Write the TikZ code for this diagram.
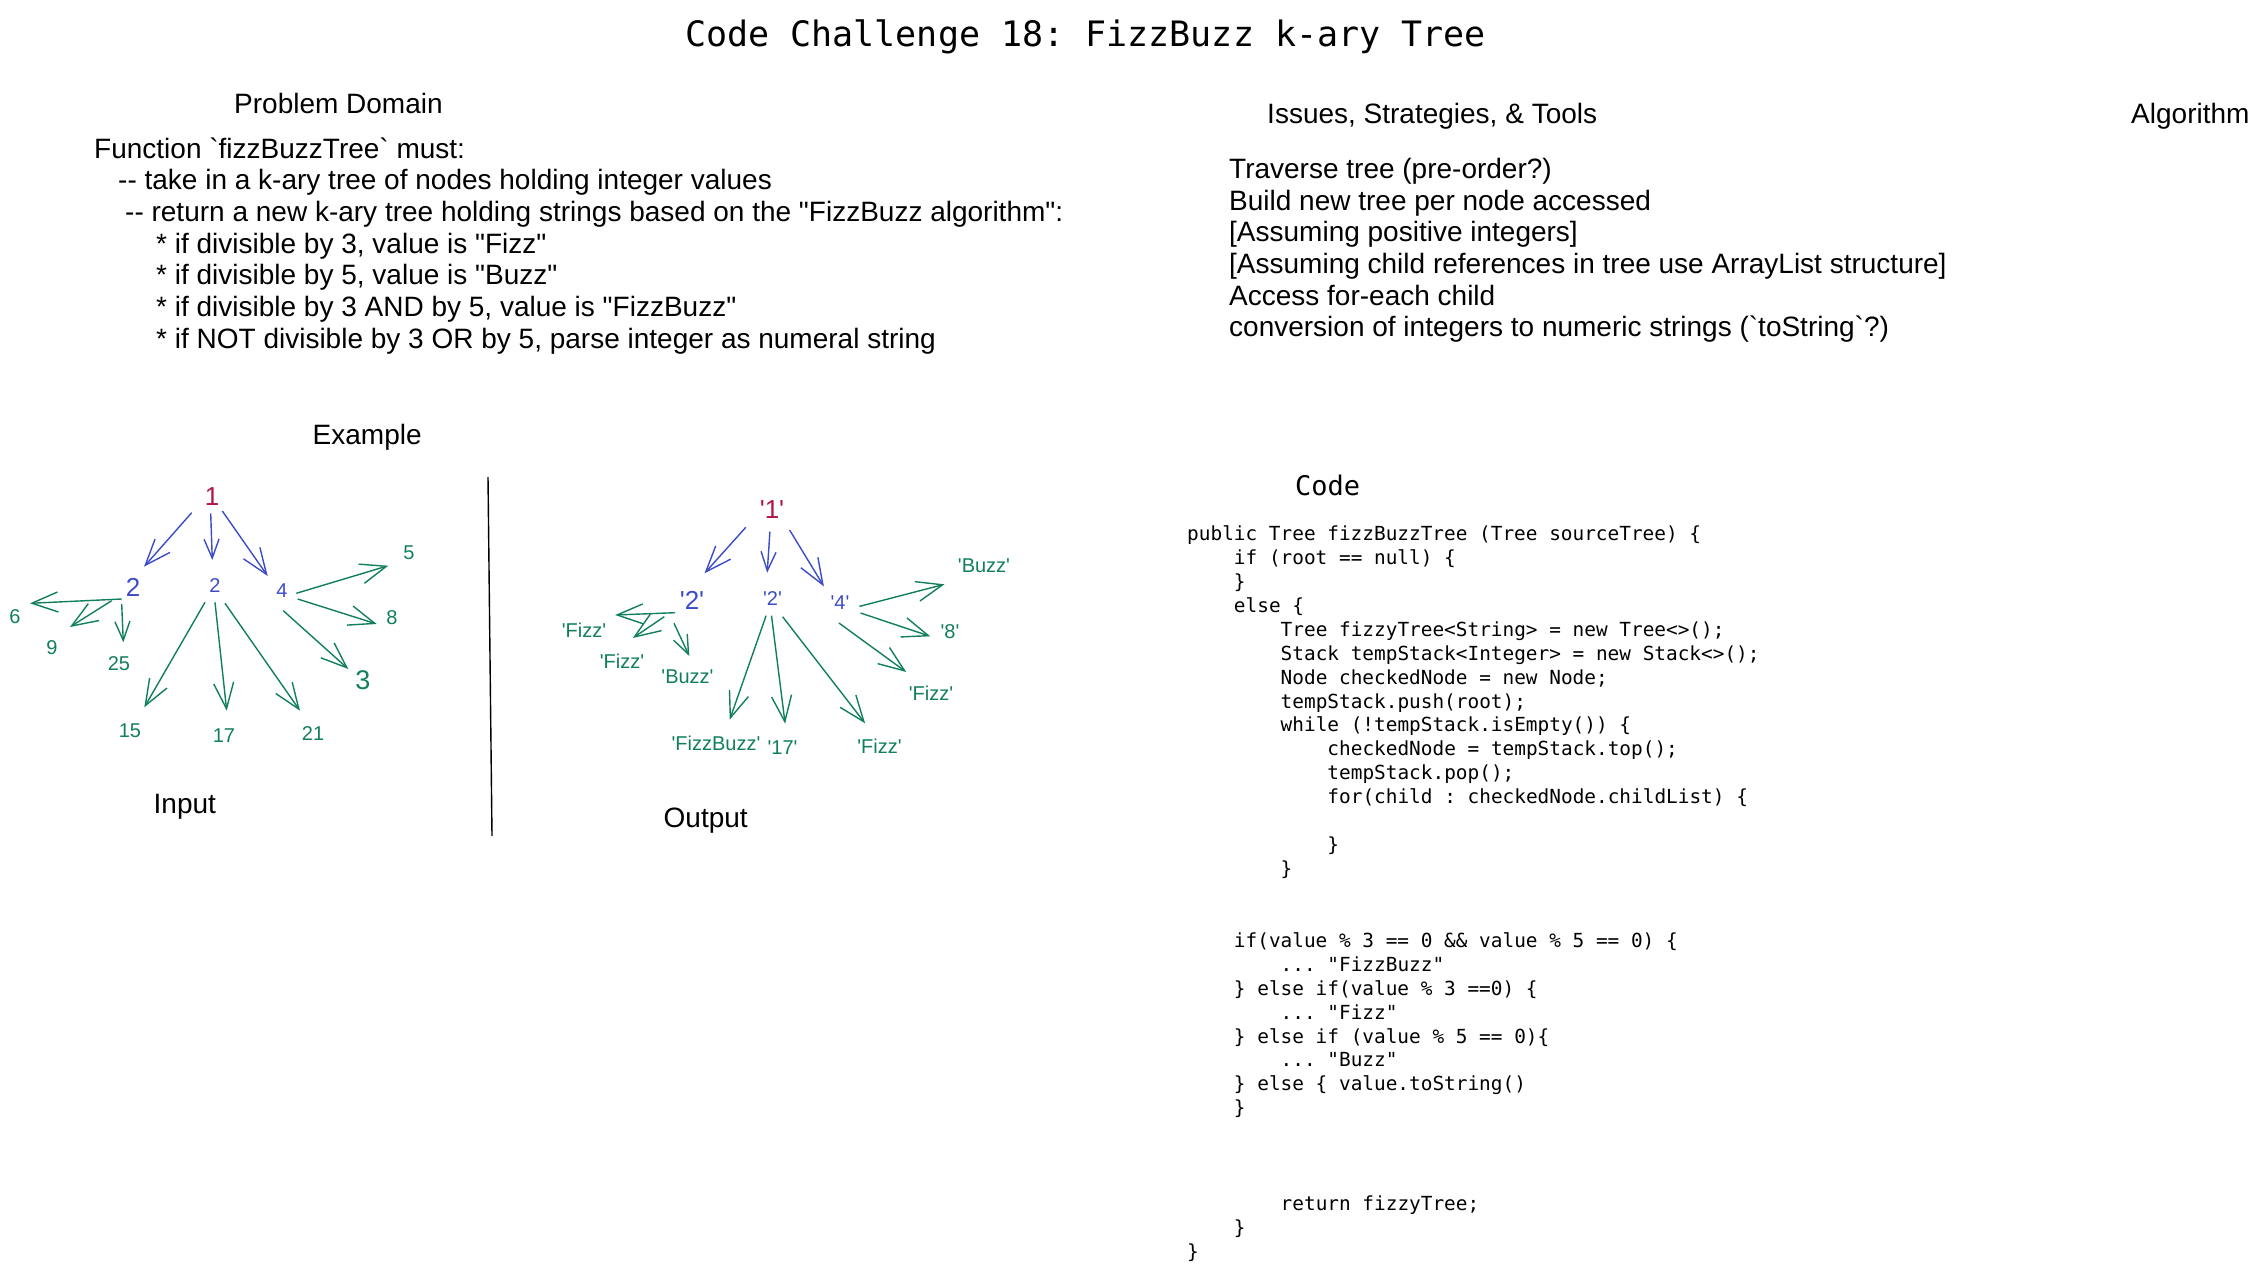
\documentclass[tikz,border=0pt]{standalone}
\usepackage{fontspec}
\setmainfont{Liberation Sans}[Ligatures=TeXOff]
\setmonofont{DejaVu Sans Mono}[Ligatures=TeXOff]
\usetikzlibrary{arrows.meta,calc}
\definecolor{rootred}{RGB}{176,20,72}
\definecolor{kidblue}{RGB}{60,76,200}
\definecolor{leafgreen}{RGB}{17,128,90}
\tikzset{
  lbl/.style={inner sep=0pt, font=\fontsize{20}{24}\selectfont},
  txt/.style={inner sep=0pt, anchor=base west, font=\fontsize{28}{32}\selectfont},
  codeln/.style={inner sep=0pt, anchor=base west, font=\ttfamily\fontsize{19.4}{24}\selectfont},
  arr/.style={-{Straight Barb[length=26pt,width=20pt]}, line width=1.4pt},
  arrs/.style={-{Straight Barb[length=19pt,width=15pt]}, line width=1.4pt}
}
\begin{document}
\begin{tikzpicture}[x=1pt, y=-1pt]
  \useasboundingbox (0,0) rectangle (2259,1274);

  % headings
  \node[inner sep=0pt, anchor=base west, font=\ttfamily\fontsize{35}{40}\selectfont] (title) at (685,46) {Code Challenge 18: FizzBuzz k-ary Tree};
  \node[txt] (pdhead) at (234,113) {Problem Domain};
  \node[txt] (ishead) at (1267,123) {Issues, Strategies, \& Tools};
  \node[txt] (alghead) at (2131,123) {Algorithm};
  \node[txt] (exhead) at (312.5,444) {Example};
  \node[txt] (inhead) at (153.5,813) {Input};
  \node[txt] (outhead) at (663.5,827) {Output};
  \node[inner sep=0pt, anchor=base west, font=\ttfamily\fontsize{27}{30}\selectfont] (codehead) at (1295,495) {Code};

  % problem domain
  \foreach \i/\x/\t in {0/94/{Function `fizzBuzzTree` must:},
      1/118/{-- take in a k-ary tree of nodes holding integer values},
      2/125/{-- return a new k-ary tree holding strings based on the "FizzBuzz algorithm":},
      3/156/{* if divisible by 3, value is "Fizz"},
      4/156/{* if divisible by 5, value is "Buzz"},
      5/156/{* if divisible by 3 AND by 5, value is "FizzBuzz"},
      6/156/{* if NOT divisible by 3 OR by 5, parse integer as numeral string}}
    \node[txt] (pd\i) at (\x,158.3+31.67*\i) {\t};

  % issues
  \foreach \i/\t in {0/{Traverse tree (pre-order?)},
      1/{Build new tree per node accessed},
      2/{[Assuming positive integers]},
      3/{[Assuming child references in tree use ArrayList structure]},
      4/{Access for-each child},
      5/{conversion of integers to numeric strings (`toString`?)}}
    \node[txt] (is\i) at (1229,178.3+31.7*\i) {\t};

  % code
  \foreach \i/\c/\t in {0/0/{public Tree fizzBuzzTree (Tree sourceTree) \{},
      1/4/{if (root == null) \{}, 2/4/{\}}, 3/4/{else \{},
      4/8/{Tree fizzyTree<String> = new Tree<>();},
      5/8/{Stack tempStack<Integer> = new Stack<>();},
      6/8/{Node checkedNode = new Node;},
      7/8/{tempStack.push(root);},
      8/8/{while (!tempStack.isEmpty()) \{},
      9/12/{checkedNode = tempStack.top();},
      10/12/{tempStack.pop();},
      11/12/{for(child : checkedNode.childList) \{},
      13/12/{\}}, 14/8/{\}},
      17/4/{if(value \% 3 == 0 \&\& value \% 5 == 0) \{},
      18/8/{.{}.{}. "FizzBuzz"},
      19/4/{\} else if(value \% 3 ==0) \{},
      20/8/{.{}.{}. "Fizz"},
      21/4/{\} else if (value \% 5 == 0)\{},
      22/8/{.{}.{}. "Buzz"},
      23/4/{\} else \{ value.toString()},
      24/4/{\}}, 28/8/{return fizzyTree;}, 29/4/{\}}, 30/0/{\}}}
    \node[codeln] (cl\i) at (1187+11.69*\c,540.5+23.93*\i) {\t};

  % input tree
  \node[lbl, text=rootred, font=\fontsize{26}{30}\selectfont] (one) at (212,497) {1};
  \node[lbl, text=kidblue, font=\fontsize{26}{30}\selectfont] (twoA) at (133,587) {2};
  \node[lbl, text=kidblue] (twoB) at (215,586) {2};
  \node[lbl, text=kidblue] (four) at (282,591) {4};
  \node[lbl, text=leafgreen, font=\fontsize{27}{30}\selectfont] (three) at (363,680) {3};
  \foreach \n/\x/\y/\t in {five/409/553/5, eight/392/618/8, six/15/617/6, nine/52/648/9,
      tf/119/664/25, fifteen/130/731/15, seventeen/224/736/17, twentyone/313/734/21}
    \node[lbl, text=leafgreen] (\n) at (\x,\y) {\t};

  \draw[line width=1.4pt] (488,477) -- (492,836);

  % output tree
  \node[lbl, text=rootred, font=\fontsize{26}{30}\selectfont] (oOne) at (772,510) {'1'};
  \node[lbl, text=kidblue, font=\fontsize{26}{30}\selectfont] (oTwoA) at (692,600) {'2'};
  \node[lbl, text=kidblue] (oTwoB) at (772.5,599) {'2'};
  \node[lbl, text=kidblue] (oFour) at (840,603) {'4'};
  \foreach \n/\x/\y/\t in {oBuzzR/984/566/'Buzz', oEight/950/632/'8', oFizzR/931/693/'Fizz',
      oFizzA/584/630/'Fizz', oFizzB/622/661/'Fizz', oBuzzL/687.5/677/'Buzz',
      oFB/716/743/'FizzBuzz', oSeventeen/782.6/748/'17', oFizzC/879.5/746/'Fizz'}
    \node[lbl, text=leafgreen] (\n) at (\x,\y) {\t};

  % connectors
  \foreach \a/\b/\ax/\ay/\bx/\by in {one/twoA/-20.3/15.7/11/-20.3, one/four/10.3/14/-14.3/-15,
      oOne/oTwoA/-26.2/17.3/12.5/-26.7, oOne/oFour/17.6/20/-16.1/-16.6}
    \draw[arr, kidblue] ($(\a)+(\ax,\ay)$) -- ($(\b)+(\bx,\by)$);
  \foreach \a/\b/\ax/\ay/\bx/\by in {one/twoB/-1.3/16.3/-2.7/-26, oOne/oTwoB/-2.1/21.7/-5.3/-26.3}
    \draw[arrs, kidblue] ($(\a)+(\ax,\ay)$) -- ($(\b)+(\bx,\by)$);
  \foreach \a/\b/\ax/\ay/\bx/\by in {twoA/six/-11.3/12/15/-13.7, twoA/nine/-21.3/13.7/18/-21,
      twoB/fifteen/-10/16.3/14.3/-23.7, twoB/seventeen/0/16.3/2.7/-25.3,
      twoB/twentyone/10/17.3/-13/-23.3, four/five/14.3/2.3/-20.7/12.7,
      four/eight/15.7/8/-15.3/6, four/three/1.3/19.7/-14.7/-11,
      oTwoA/oFizzA/-16.9/12.7/31.2/-15, oTwoA/oFizzB/-27.7/16.7/10.8/-23,
      oTwoB/oFB/-6.4/16.7/13.7/-23.3, oTwoB/oSeventeen/-1/16.7/2.5/-24.4,
      oTwoB/oFizzC/10.1/17.7/-14.4/-22.7, oFour/oBuzzR/19.4/3.4/-39.5/18.3,
      oFour/oEight/20.5/10/-19.7/4.3, oFour/oFizzR/-1.1/20/-24.8/-21}
    \draw[arr, leafgreen] ($(\a)+(\ax,\ay)$) -- ($(\b)+(\bx,\by)$);
  \foreach \a/\b/\ax/\ay/\bx/\by in {twoA/tf/-11.3/17/4.3/-21.7, oTwoA/oBuzzL/-18/23.3/1.8/-21}
    \draw[arrs, leafgreen] ($(\a)+(\ax,\ay)$) -- ($(\b)+(\bx,\by)$);
\end{tikzpicture}
\end{document}
